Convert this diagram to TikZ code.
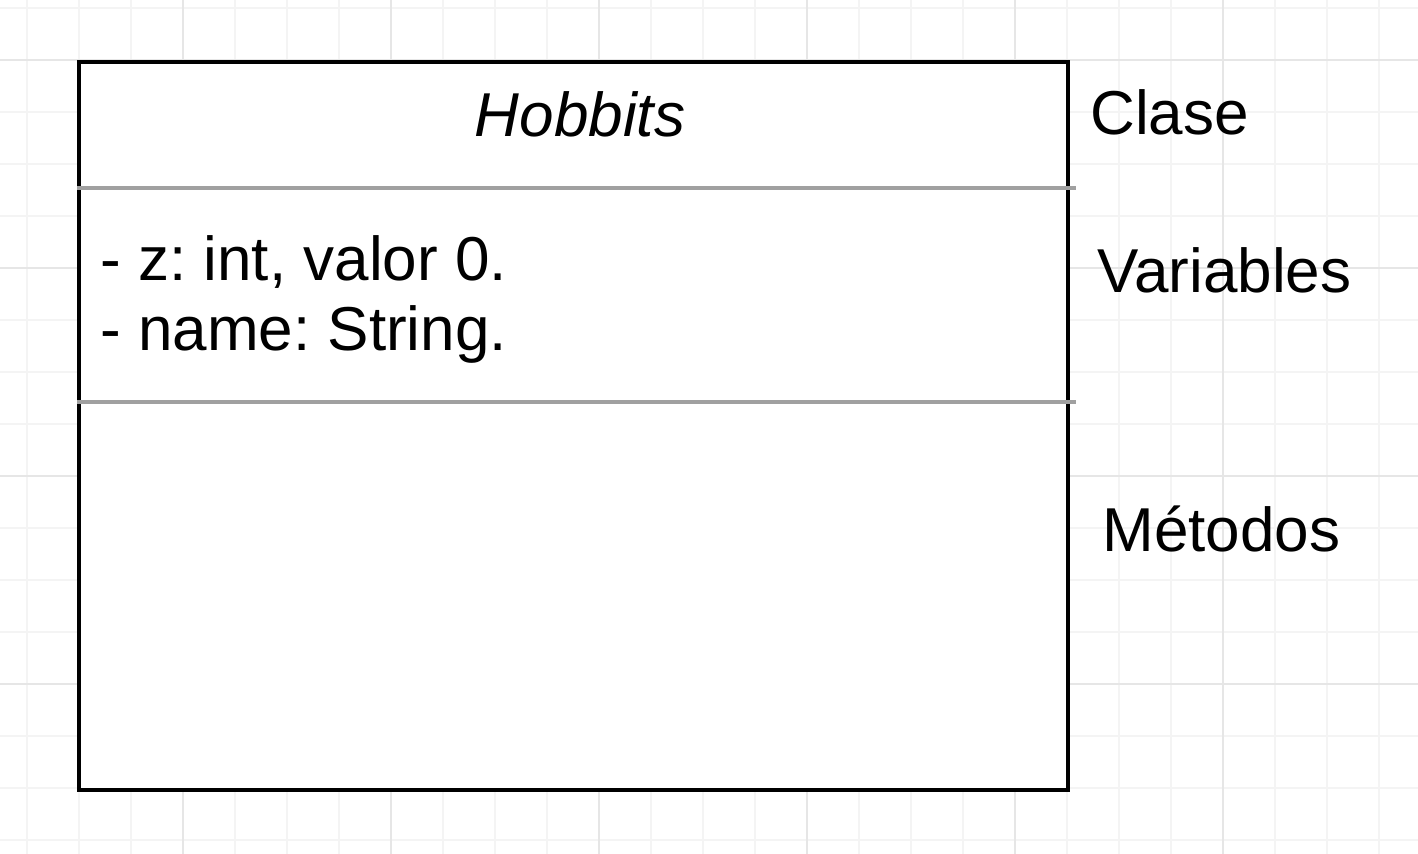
\documentclass[tikz,border=0pt]{standalone}
\usepackage{fontspec}
\setmainfont{Liberation Sans}
\definecolor{gridminor}{HTML}{F4F4F4}
\definecolor{gridmajor}{HTML}{E6E6E6}
\definecolor{sepgray}{HTML}{A0A0A0}
\tikzset{
    classbox/.style={draw=black, line width=2pt, fill=white, inner sep=0pt,
        minimum width=494.5pt, minimum height=364pt},
    sepline/.style={draw=sepgray, line width=1.6pt},
    umltext/.style={font=\fontsize{31}{34}\selectfont, inner sep=0pt, anchor=base west}
}
\frenchspacing

\begin{document}
\begin{tikzpicture}[x=0.5pt,y=-0.5pt]

    \useasboundingbox (0,0) rectangle (1418,854);
    \fill[white] (0,0) rectangle (1418,854);

    % background grid
    \foreach \gx in {27,79,...,1379} \draw[gridminor, line width=0.6pt] (\gx,0) -- (\gx,854);
    \foreach \gy in {8,60,...,840} \draw[gridminor, line width=0.6pt] (0,\gy) -- (1418,\gy);
    \foreach \gx in {183,391,...,1223} \draw[gridmajor, line width=0.6pt] (\gx,0) -- (\gx,854);
    \foreach \gy in {60,268,...,684} \draw[gridmajor, line width=0.6pt] (0,\gy) -- (1418,\gy);

    % class box with its three parts
    \node[classbox] (hobbits) at (573.5,426) {};
    \draw[sepline] (hobbits.west |- 0,188) -- (1076,188);
    \draw[sepline] (hobbits.west |- 0,402) -- (1076,402);

    \node[umltext, anchor=base, font=\fontsize{31}{34}\selectfont\itshape] (classname) at (580,137) {Hobbits};
    \node[umltext] (zfield) at (100,281) {- z: int, valor 0.};
    \node[umltext] (namefield) at ([yshift=-35pt]zfield.base west) {- name: String.};

    % labels on the right
    \node[umltext] (clase) at (1090,135) {Clase};
    \node[umltext] (variables) at (1097,293) {Variables};
    \node[umltext] (metodos) at (1102,552) {Métodos};
\end{tikzpicture}
\end{document}
